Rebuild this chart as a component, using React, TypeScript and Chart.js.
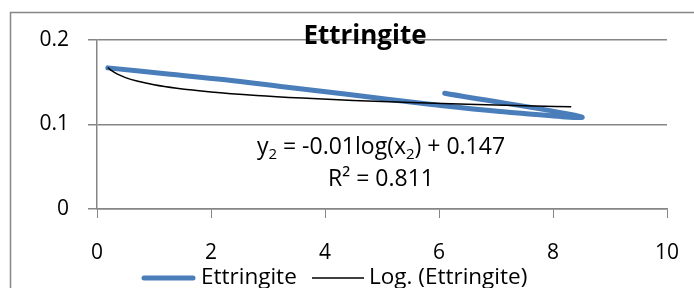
import React, { useEffect, useRef } from "react";
import { Chart, registerables } from "chart.js";

Chart.register(...registerables);

// Ettringite series (in drawing order)
const ettringiteX = [0.19, 1.2, 2.25, 3.3, 4.35, 5.84, 7.07, 8.5, 6.1];
const ettringiteY = [0.167, 0.16, 0.153, 0.1445, 0.136, 0.124, 0.1155, 0.109, 0.137];

// Logarithmic trendline y = a*ln(x) + b (shown rounded on the chart)
const trendA = -0.0123;
const trendB = 0.147;
const trendX = [0.19, 0.25, 0.35, 0.5, 0.7, 1, 1.4, 2, 2.8, 3.6, 4.5, 5.5, 6.5, 7.5, 8.32];

const xTicks = [0, 2, 4, 6, 8, 10];
const yTicks = [0, 0.1, 0.2];

const titleText = "Ettringite";
const seriesName = "Ettringite";
const trendName = "Log. (Ettringite)";
const eqText = { y: "y", sub: "2", mid: " = -0.01log(x", tail: ") + 0.147" };
const r2Text = "R² = 0.811";

const FONT = "'Open Sans', Lato, sans-serif";
const BLUE = "#4A7EBB";
const GRAY = "#868686";

export default function App() {
  const ref = useRef<HTMLCanvasElement | null>(null);

  useEffect(() => {
    if (!ref.current) return;
    const seriesData = ettringiteX.map((x, i) => ({ x, y: ettringiteY[i] }));
    const trendData = trendX.map((x) => ({ x, y: trendA * Math.log(x) + trendB }));

    const overlay = {
      id: "overlay",
      afterDraw(chart: any) {
        const ctx = chart.ctx as CanvasRenderingContext2D;
        ctx.save();
        // outer chart border
        ctx.strokeStyle = GRAY;
        ctx.lineWidth = 1.5;
        ctx.strokeRect(10.5, 12.5, 800, 400);

        // title
        ctx.fillStyle = "#000";
        ctx.font = `bold 26px ${FONT}`;
        ctx.textAlign = "center";
        ctx.textBaseline = "alphabetic";
        ctx.fillText(titleText, 365, 44);

        // equation with subscripts
        const eqFont = `23px ${FONT}`;
        const subFont = `15px ${FONT}`;
        ctx.textAlign = "left";
        const parts = [
          { t: eqText.y, f: eqFont, dy: 0 },
          { t: eqText.sub, f: subFont, dy: 5 },
          { t: eqText.mid, f: eqFont, dy: 0 },
          { t: eqText.sub, f: subFont, dy: 5 },
          { t: eqText.tail, f: eqFont, dy: 0 },
        ];
        let w = 0;
        parts.forEach((p) => {
          ctx.font = p.f;
          w += ctx.measureText(p.t).width;
        });
        let cx = 381 - w / 2;
        parts.forEach((p) => {
          ctx.font = p.f;
          ctx.fillText(p.t, cx, 154 + p.dy);
          cx += ctx.measureText(p.t).width;
        });
        ctx.font = eqFont;
        ctx.textAlign = "center";
        ctx.fillText(r2Text, 381, 186);

        // legend
        const legFont = `22.5px ${FONT}`;
        const ly = 278;
        ctx.lineCap = "round";
        ctx.strokeStyle = BLUE;
        ctx.lineWidth = 5;
        ctx.beginPath();
        ctx.moveTo(144, ly);
        ctx.lineTo(193, ly);
        ctx.stroke();
        ctx.lineCap = "butt";
        ctx.strokeStyle = "#000";
        ctx.lineWidth = 1.5;
        ctx.beginPath();
        ctx.moveTo(312, ly);
        ctx.lineTo(364, ly);
        ctx.stroke();
        ctx.font = legFont;
        ctx.textAlign = "left";
        ctx.fillStyle = "#000";
        ctx.fillText(seriesName, 201, 284);
        ctx.fillText(trendName, 369, 284);
        ctx.restore();
      },
    };

    const chart = new Chart(ref.current, {
      type: "line",
      data: {
        datasets: [
          {
            label: trendName,
            data: trendData,
            borderColor: "#000",
            borderWidth: 1.5,
            pointRadius: 0,
            fill: false,
            cubicInterpolationMode: "monotone",
            order: 0,
          },
          {
            label: seriesName,
            data: seriesData,
            borderColor: BLUE,
            borderWidth: 5,
            borderCapStyle: "round",
            borderJoinStyle: "round",
            pointRadius: 0,
            fill: false,
            tension: 0.4,
            order: 1,
          },
        ],
      },
      options: {
        responsive: false,
        animation: false,
        layout: { padding: { left: 0, top: 40, right: 27, bottom: 0 } },
        plugins: { legend: { display: false }, title: { display: false }, tooltip: { enabled: false } },
        scales: {
          x: {
            type: "linear",
            min: 0,
            max: 10,
            afterFit: (s: any) => {
              s.height = 79;
              s.paddingLeft = 0;
              s.paddingRight = 0;
            },
            afterBuildTicks: (s: any) => {
              s.ticks = xTicks.map((v) => ({ value: v }));
            },
            ticks: { color: "#000", font: { family: FONT, size: 21 }, padding: 22, maxRotation: 0 },
            grid: { drawOnChartArea: false, drawTicks: true, tickLength: 9, color: GRAY, lineWidth: 1 },
            border: { color: GRAY, width: 1.5 },
          },
          y: {
            type: "linear",
            min: 0,
            max: 0.2,
            afterFit: (s: any) => {
              s.width = 97;
              s.paddingTop = 0;
              s.paddingBottom = 0;
            },
            afterBuildTicks: (s: any) => {
              s.ticks = yTicks.map((v) => ({ value: v }));
            },
            ticks: {
              color: "#000",
              font: { family: FONT, size: 21 },
              padding: 19,
              callback: (v: any) => String(Math.round(Number(v) * 10) / 10),
            },
            grid: { drawTicks: true, tickLength: 9, color: GRAY, lineWidth: 1.5 },
            border: { color: GRAY, width: 1.5 },
          },
        },
      },
      plugins: [overlay],
    } as any);

    return () => chart.destroy();
  }, []);

  return (
    <div style={{ position: "absolute", left: 0, top: 0, width: 694, height: 288, background: "#fff" }}>
      <canvas ref={ref} width={694} height={288} style={{ display: "block" }} />
    </div>
  );
}
